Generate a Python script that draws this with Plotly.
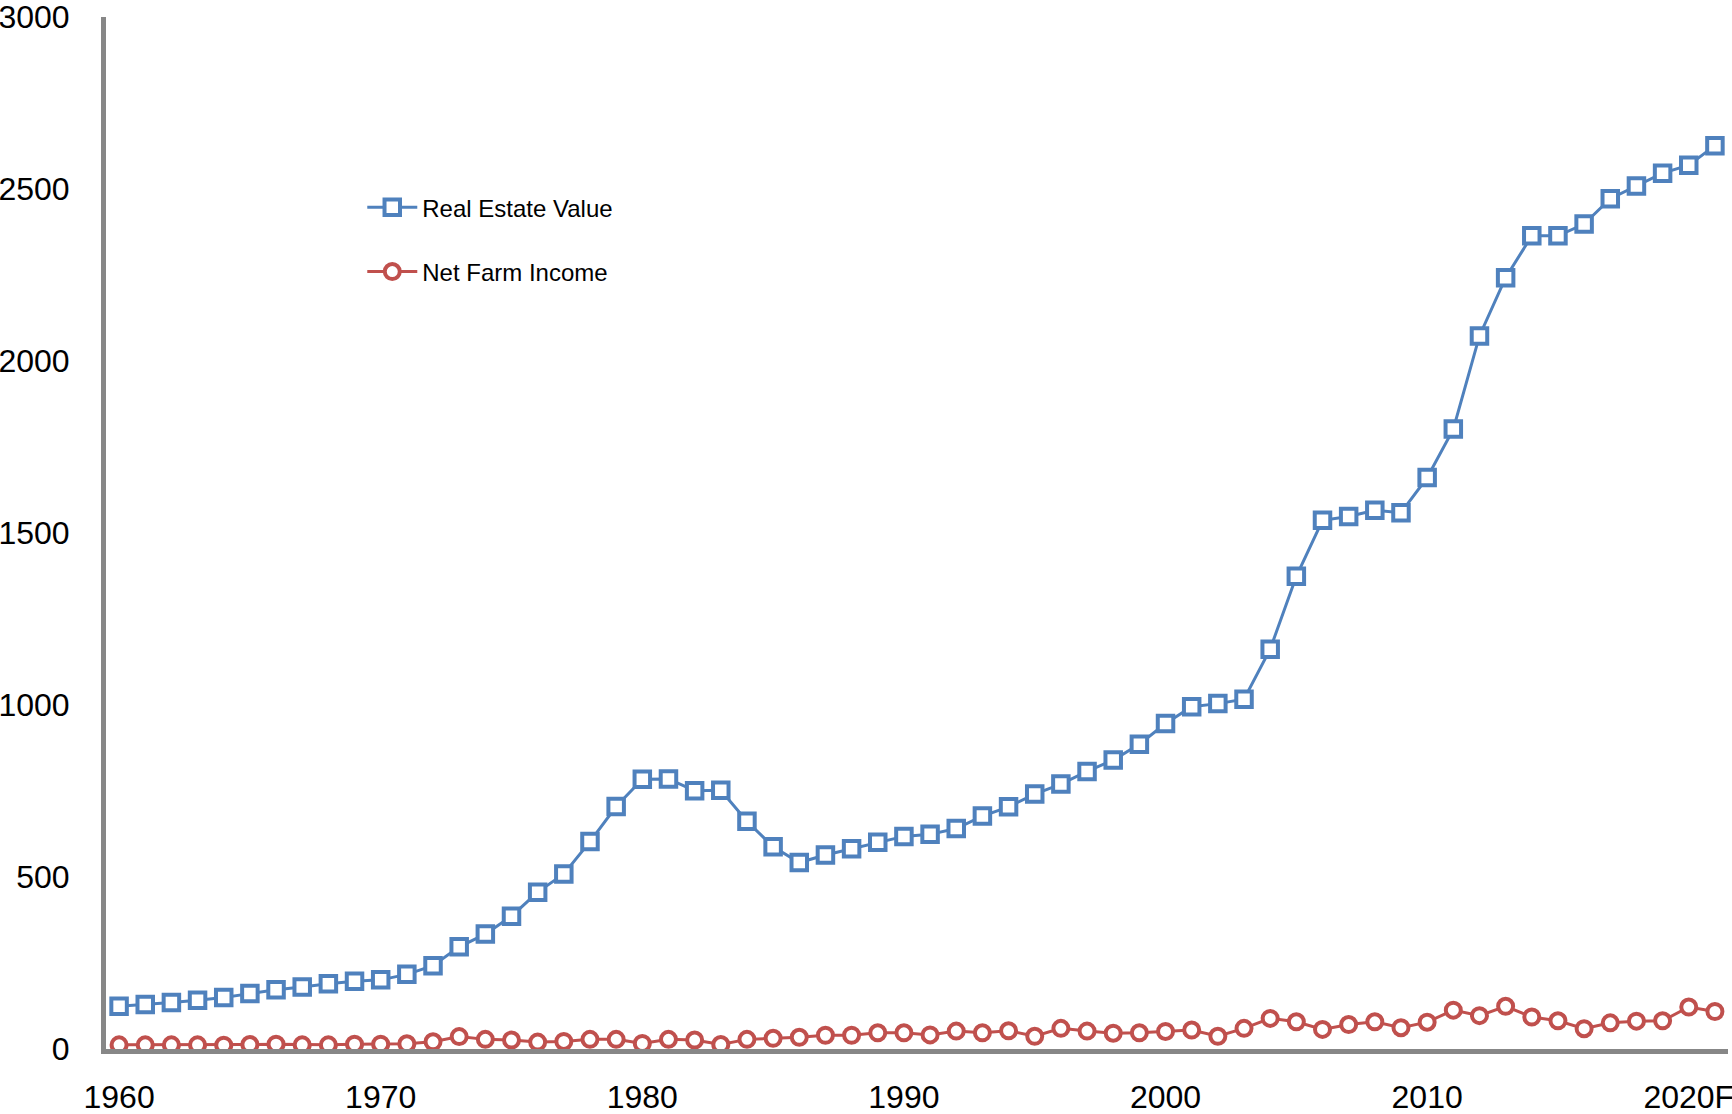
import plotly.graph_objects as go

# Year categories; the last two years are forecasts
years = [str(y) for y in range(1960, 2020)] + ["2020F", "2021F"]

# Farm real estate value, billions of dollars
real_estate_value = [
    124, 129, 135, 142, 150, 161, 172, 180, 190, 197,
    201, 217, 242, 297, 334, 386, 456, 509, 603, 705,
    784, 785, 751, 752, 662, 588, 542, 564, 582, 601,
    618, 624, 641, 677, 704, 741, 770, 807, 840, 886,
    946, 995, 1004, 1017, 1162, 1374, 1537, 1548, 1566, 1559,
    1661, 1802, 2073, 2242, 2364, 2364, 2398, 2472, 2509, 2546,
    2569, 2626,
]

# Net farm income, billions of dollars
net_farm_income = [
    12, 12, 12, 12, 11, 13, 14, 12, 12, 14,
    14, 15, 21, 36, 28, 26, 20, 22, 28, 28,
    16, 28, 26, 13, 28, 31, 34, 40, 40, 47,
    47, 41, 52, 47, 53, 37, 60, 52, 46, 47,
    51, 55, 37, 60, 89, 79, 57, 71, 79, 62,
    78, 113, 97, 124, 93, 82, 59, 76, 81, 82,
    122, 109,
]

x_ticks = ["1960", "1970", "1980", "1990", "2000", "2010", "2020F"]
y_ticks = [0, 500, 1000, 1500, 2000, 2500, 3000]

BLUE = "#4F81BD"
RED = "#C0504D"
AXIS_GREY = "#878787"
FONT = "Liberation Sans, Arial, sans-serif"

fig = go.Figure()

fig.add_trace(go.Scatter(
    x=years, y=real_estate_value,
    name="Real Estate Value",
    legendgroup="rev",
    mode="lines+markers",
    line=dict(color=BLUE, width=3),
    marker=dict(symbol="square", size=15.5, color="white",
                line=dict(color=BLUE, width=4)),
))

fig.add_trace(go.Scatter(
    x=years, y=net_farm_income,
    name="Net Farm Income",
    legendgroup="nfi",
    mode="lines+markers",
    line=dict(color=RED, width=3),
    marker=dict(symbol="circle", size=15, color="white",
                line=dict(color=RED, width=4)),
))

fig.update_layout(
    width=1732, height=1114, autosize=False,
    margin=dict(l=106, r=4, t=17, b=65),
    paper_bgcolor="white", plot_bgcolor="white",
    font=dict(family=FONT, color="black"),
    showlegend=True,
    legend=dict(
        x=0.158, y=0.837, xanchor="left", yanchor="top",
        font=dict(size=24, family=FONT, color="black"),
        bgcolor="rgba(0,0,0,0)",
        tracegroupgap=30,
        itemwidth=50,
    ),
    xaxis=dict(
        type="category",
        range=[-0.5, len(years) - 0.5],
        tickmode="array", tickvals=x_ticks, ticktext=x_ticks,
        showgrid=False, zeroline=False,
        showline=True, linecolor=AXIS_GREY, linewidth=5,
        ticks="", ticklabelstandoff=16,
        ticklabeloverflow="allow", automargin=False,
        tickfont=dict(size=32, family=FONT, color="black"),
    ),
    yaxis=dict(
        range=[0, 3000],
        tickmode="array", tickvals=y_ticks,
        showgrid=False, zeroline=False,
        showline=True, linecolor=AXIS_GREY, linewidth=5,
        ticks="", ticklabelstandoff=25,
        ticklabeloverflow="allow", automargin=False,
        tickfont=dict(size=32, family=FONT, color="black"),
    ),
)

fig.write_html("out.html")
